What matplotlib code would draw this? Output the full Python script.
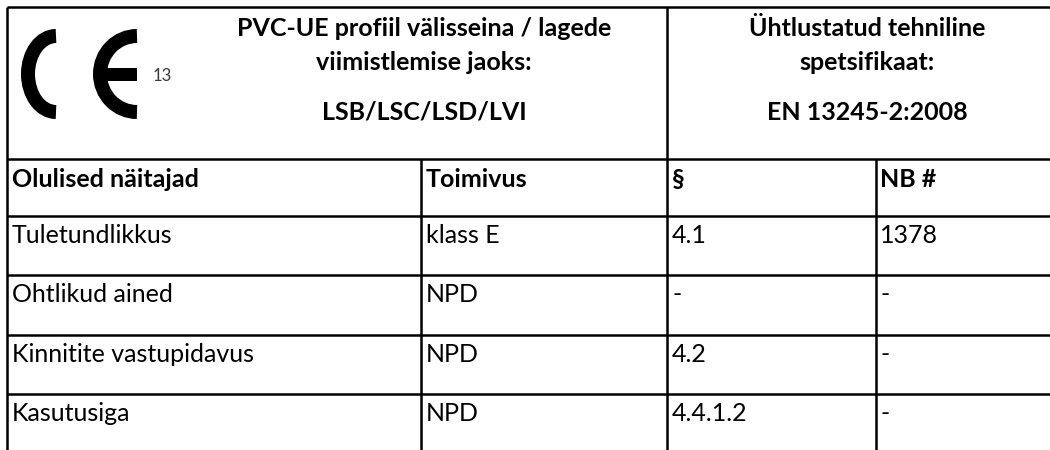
import matplotlib
matplotlib.use('Agg')
import matplotlib.pyplot as plt
from matplotlib.patches import Arc, Rectangle

font = {'family': ['Lato', 'DejaVu Sans'], 'size': 18}
matplotlib.rc('font', **font)

# table content
title_lines = ['PVC-UE profiil välisseina / lagede', 'viimistlemise jaoks:', 'LSB/LSC/LSD/LVI']
spec_lines = ['Ühtlustatud tehniline', 'spetsifikaat:', 'EN 13245-2:2008']
notified_body = '13'
header_cols = ['Olulised näitajad', 'Toimivus', '§', 'NB #']
characteristics = ['Tuletundlikkus', 'Ohtlikud ained', 'Kinnitite vastupidavus', 'Kasutusiga']
performance = ['klass E', 'NPD', 'NPD', 'NPD']
sections = ['4.1', '-', '4.2', '4.4.1.2']
nb_numbers = ['1378', '-', '-', '-']

# layout (pixels, y goes down)
col_x = [7, 421, 667, 876]
text_pad = [5, 5, 5, 4]
top_y = 7
head_y = 159
row_h = 59.3
title_base = [36, 70, 120]
lw = 1.8

fig = plt.figure(figsize=(10.5, 4.5), dpi=100)
ax = fig.add_axes([0, 0, 1, 1])
ax.set_xlim(0, 1050)
ax.set_ylim(450, 0)
ax.axis('off')

# grid lines
row_tops = [head_y + 57 + i * row_h for i in range(len(characteristics))]
ax.hlines([top_y, head_y] + row_tops, col_x[0], 1050, color='black', lw=lw)
ax.vlines(col_x[0], top_y, 450, color='black', lw=lw)
ax.vlines(col_x[2], top_y, 450, color='black', lw=lw)
ax.vlines([col_x[1], col_x[3]], head_y, 450, color='black', lw=lw)

# CE mark
ce_lw = 14 * 72 / 100
ax.add_patch(Arc((56, 74), 2 * 28, 2 * 38, theta1=90, theta2=270,
                 lw=ce_lw, color='black', capstyle='butt'))
ax.add_patch(Arc((137, 74), 2 * 37, 2 * 38, theta1=90, theta2=270,
                 lw=ce_lw, color='black', capstyle='butt'))
ax.add_patch(Rectangle((100, 67.5), 37, 13, color='black', lw=0))
ax.text(153, 81, notified_body, fontsize=12, color='#3a3a3a',
        ha='left', va='baseline')

# title blocks
for txt, yb in zip(title_lines, title_base):
    ax.text(424, yb, txt, fontweight='bold', ha='center', va='baseline')
for txt, yb in zip(spec_lines, title_base):
    ax.text(867, yb, txt, fontweight='bold', ha='center', va='baseline')

# column headers
for x, pad, txt in zip(col_x, text_pad, header_cols):
    ax.text(x + pad, head_y + 28, txt, fontweight='bold', ha='left', va='baseline')

# body rows
for i, row in enumerate(zip(characteristics, performance, sections, nb_numbers)):
    yb = row_tops[i] + 27
    for x, pad, txt in zip(col_x, text_pad, row):
        ax.text(x + pad, yb, txt, ha='left', va='baseline')

plt.savefig('out.png', dpi=100)
plt.close()
